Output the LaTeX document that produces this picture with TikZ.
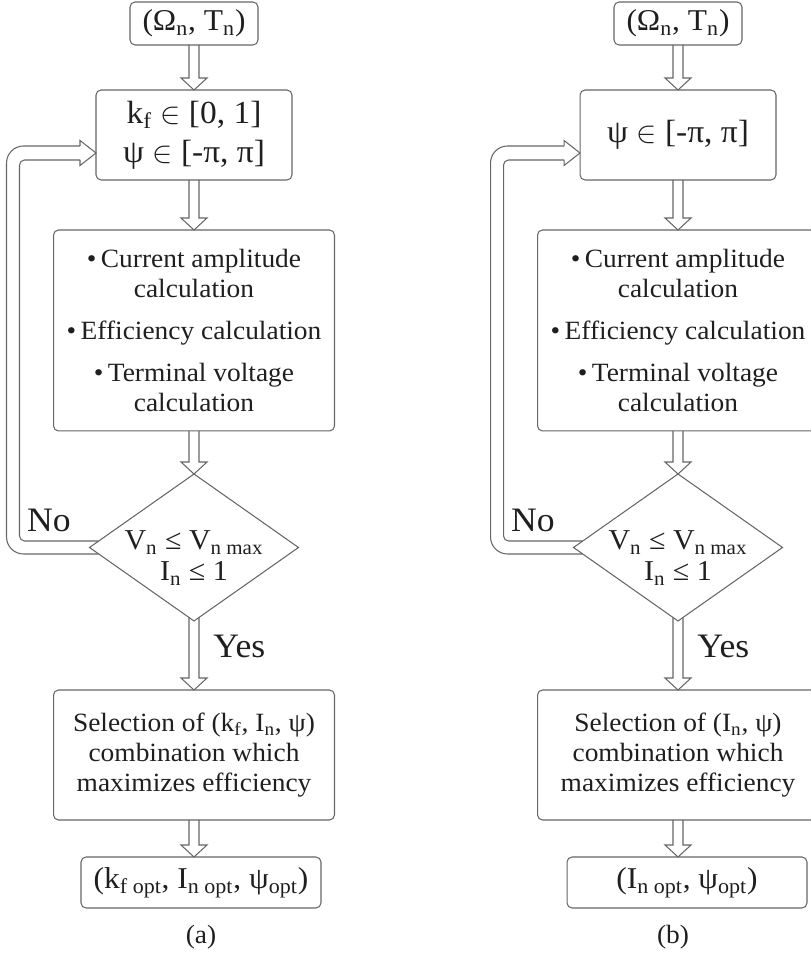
\documentclass[tikz,border=0pt]{standalone}
\usepackage{fontspec}
\setmainfont[FakeStretch=1.04]{Liberation Serif}
\usetikzlibrary{shapes.geometric,calc}

\definecolor{linegray}{gray}{0.4}
\definecolor{textgray}{gray}{0.12}

% hollow block arrow, straight down from #2 to #3
\newcommand{\hollowdown}[3][0]{%
  \coordinate (tip) at (#2.south |- #3.north);
  \draw[conn] ($(#2.south)+(-5,#1)$) -- ($(tip)+(-5,12)$) -- ($(tip)+(-13,12)$) -- (tip)
    -- ($(tip)+(13,12)$) -- ($(tip)+(5,12)$) -- ($(#2.south)+(5,#1)$);}

% hollow feedback arrow from the decision #1 back to #2
\newcommand{\loopback}[2]{%
  \draw[conn, rounded corners=0.34cm] ($(#1.west)+(9.2,-6.5)$) -- ++(-92.2,0) |- ($(#2.west)+(-16,-11)$);
  \draw[conn, rounded corners=0.1cm] ($(#1.west)+(9.2,6.5)$) -- ++(-79.2,0) |- ($(#2.west)+(-16,-25)$);
  \draw[conn] ($(#2.west)+(-16,-11)$) -- ++(0,5.5) -- ($(#2.west)+(0,-18)$)
    -- ($(#2.west)+(-16,-30.5)$) -- ++(0,5.5);}

\begin{document}
\begin{tikzpicture}[x=0.02cm, y=0.02cm,
    box/.style={draw=linegray, line width=0.6pt, rounded corners=0.1cm, align=center,
      inner sep=0pt, outer sep=0pt, text=textgray, font=\fontsize{15}{17}\selectfont},
    inbox/.style={box, minimum width=2.56cm, minimum height=0.86cm, font=\fontsize{17.2}{19}\selectfont},
    rangebox/.style={box, minimum width=3.92cm, minimum height=1.8cm, font=\fontsize{18.3}{22}\selectfont},
    calcbox/.style={box, minimum width=5.62cm, minimum height=4.02cm},
    selbox/.style={box, minimum width=5.62cm, minimum height=2.6cm},
    outbox/.style={box, minimum width=4.8cm, minimum height=1.02cm, font=\fontsize{17.2}{19}\selectfont},
    decision/.style={draw=linegray, line width=0.6pt, diamond, inner sep=0pt, outer sep=0pt,
      minimum width=4.18cm, minimum height=2.94cm},
    cond/.style={align=center, text=textgray, font=\fontsize{16.4}{17.6}\selectfont},
    lbl/.style={text=textgray, inner sep=0pt, font=\fontsize{19.5}{21}\selectfont},
    sublbl/.style={text=textgray, font=\fontsize{15}{16}\selectfont},
    conn/.style={draw=linegray, line width=0.6pt}
  ]
  \useasboundingbox (0,0) rectangle (811,953);
  \clip (0,0) rectangle (811,953);

  % (a) with field weakening
  \node[inbox] (inA) at (194,929.5) {(Ω\textsubscript{n}, T\textsubscript{n})};
  \node[rangebox] (initA) at (194,818) {k\textsubscript{f} \ensuremath{\in} [0, 1]\\ψ \ensuremath{\in} [-π, π]};
  \node[calcbox] (calcA) at (194,622.5) {\textbullet\,Current amplitude\\calculation\\[7pt]
    \textbullet\,Efficiency calculation\\[7pt]\textbullet\,Terminal voltage\\calculation};
  \node[decision] (checkA) at (194,405.5) {};
  \node[cond] (condA) at (194,395) {V\textsubscript{n} ≤ V\textsubscript{n max}\\I\textsubscript{n} ≤ 1};
  \node[selbox] (selA) at (194,198) {Selection of (k\textsubscript{f}, I\textsubscript{n}, ψ)\\combination which\\maximizes efficiency};
  \node[outbox] (outA) at (201,70.5) {(k\textsubscript{f opt}, I\textsubscript{n opt}, ψ\textsubscript{opt})};
  \node[lbl] (noA) at (49,433) {No};
  \node[lbl, anchor=west] (yesA) at (213,307) {Yes};
  \node[sublbl] (capA) at (201,16) {(a)};

  \hollowdown{inA}{initA}
  \hollowdown{initA}{calcA}
  \hollowdown{calcA}{checkA}
  \hollowdown[3.5]{checkA}{selA}
  \hollowdown{selA}{outA}
  \loopback{checkA}{initA}

  % (b) without field weakening
  \node[inbox] (inB) at (678,929.5) {(Ω\textsubscript{n}, T\textsubscript{n})};
  \node[rangebox] (initB) at (678,818) {ψ \ensuremath{\in} [-π, π]};
  \node[calcbox] (calcB) at (678,622.5) {\textbullet\,Current amplitude\\calculation\\[7pt]
    \textbullet\,Efficiency calculation\\[7pt]\textbullet\,Terminal voltage\\calculation};
  \node[decision] (checkB) at (678,405.5) {};
  \node[cond] (condB) at (678,395) {V\textsubscript{n} ≤ V\textsubscript{n max}\\I\textsubscript{n} ≤ 1};
  \node[selbox] (selB) at (678,198) {Selection of (I\textsubscript{n}, ψ)\\combination which\\maximizes efficiency};
  \node[outbox] (outB) at (687,70.5) {(I\textsubscript{n opt}, ψ\textsubscript{opt})};
  \node[lbl] (noB) at (533,433) {No};
  \node[lbl, anchor=west] (yesB) at (697,307) {Yes};
  \node[sublbl] (capB) at (673,16) {(b)};

  \hollowdown{inB}{initB}
  \hollowdown{initB}{calcB}
  \hollowdown{calcB}{checkB}
  \hollowdown[3.5]{checkB}{selB}
  \hollowdown{selB}{outB}
  \loopback{checkB}{initB}
\end{tikzpicture}
\end{document}
